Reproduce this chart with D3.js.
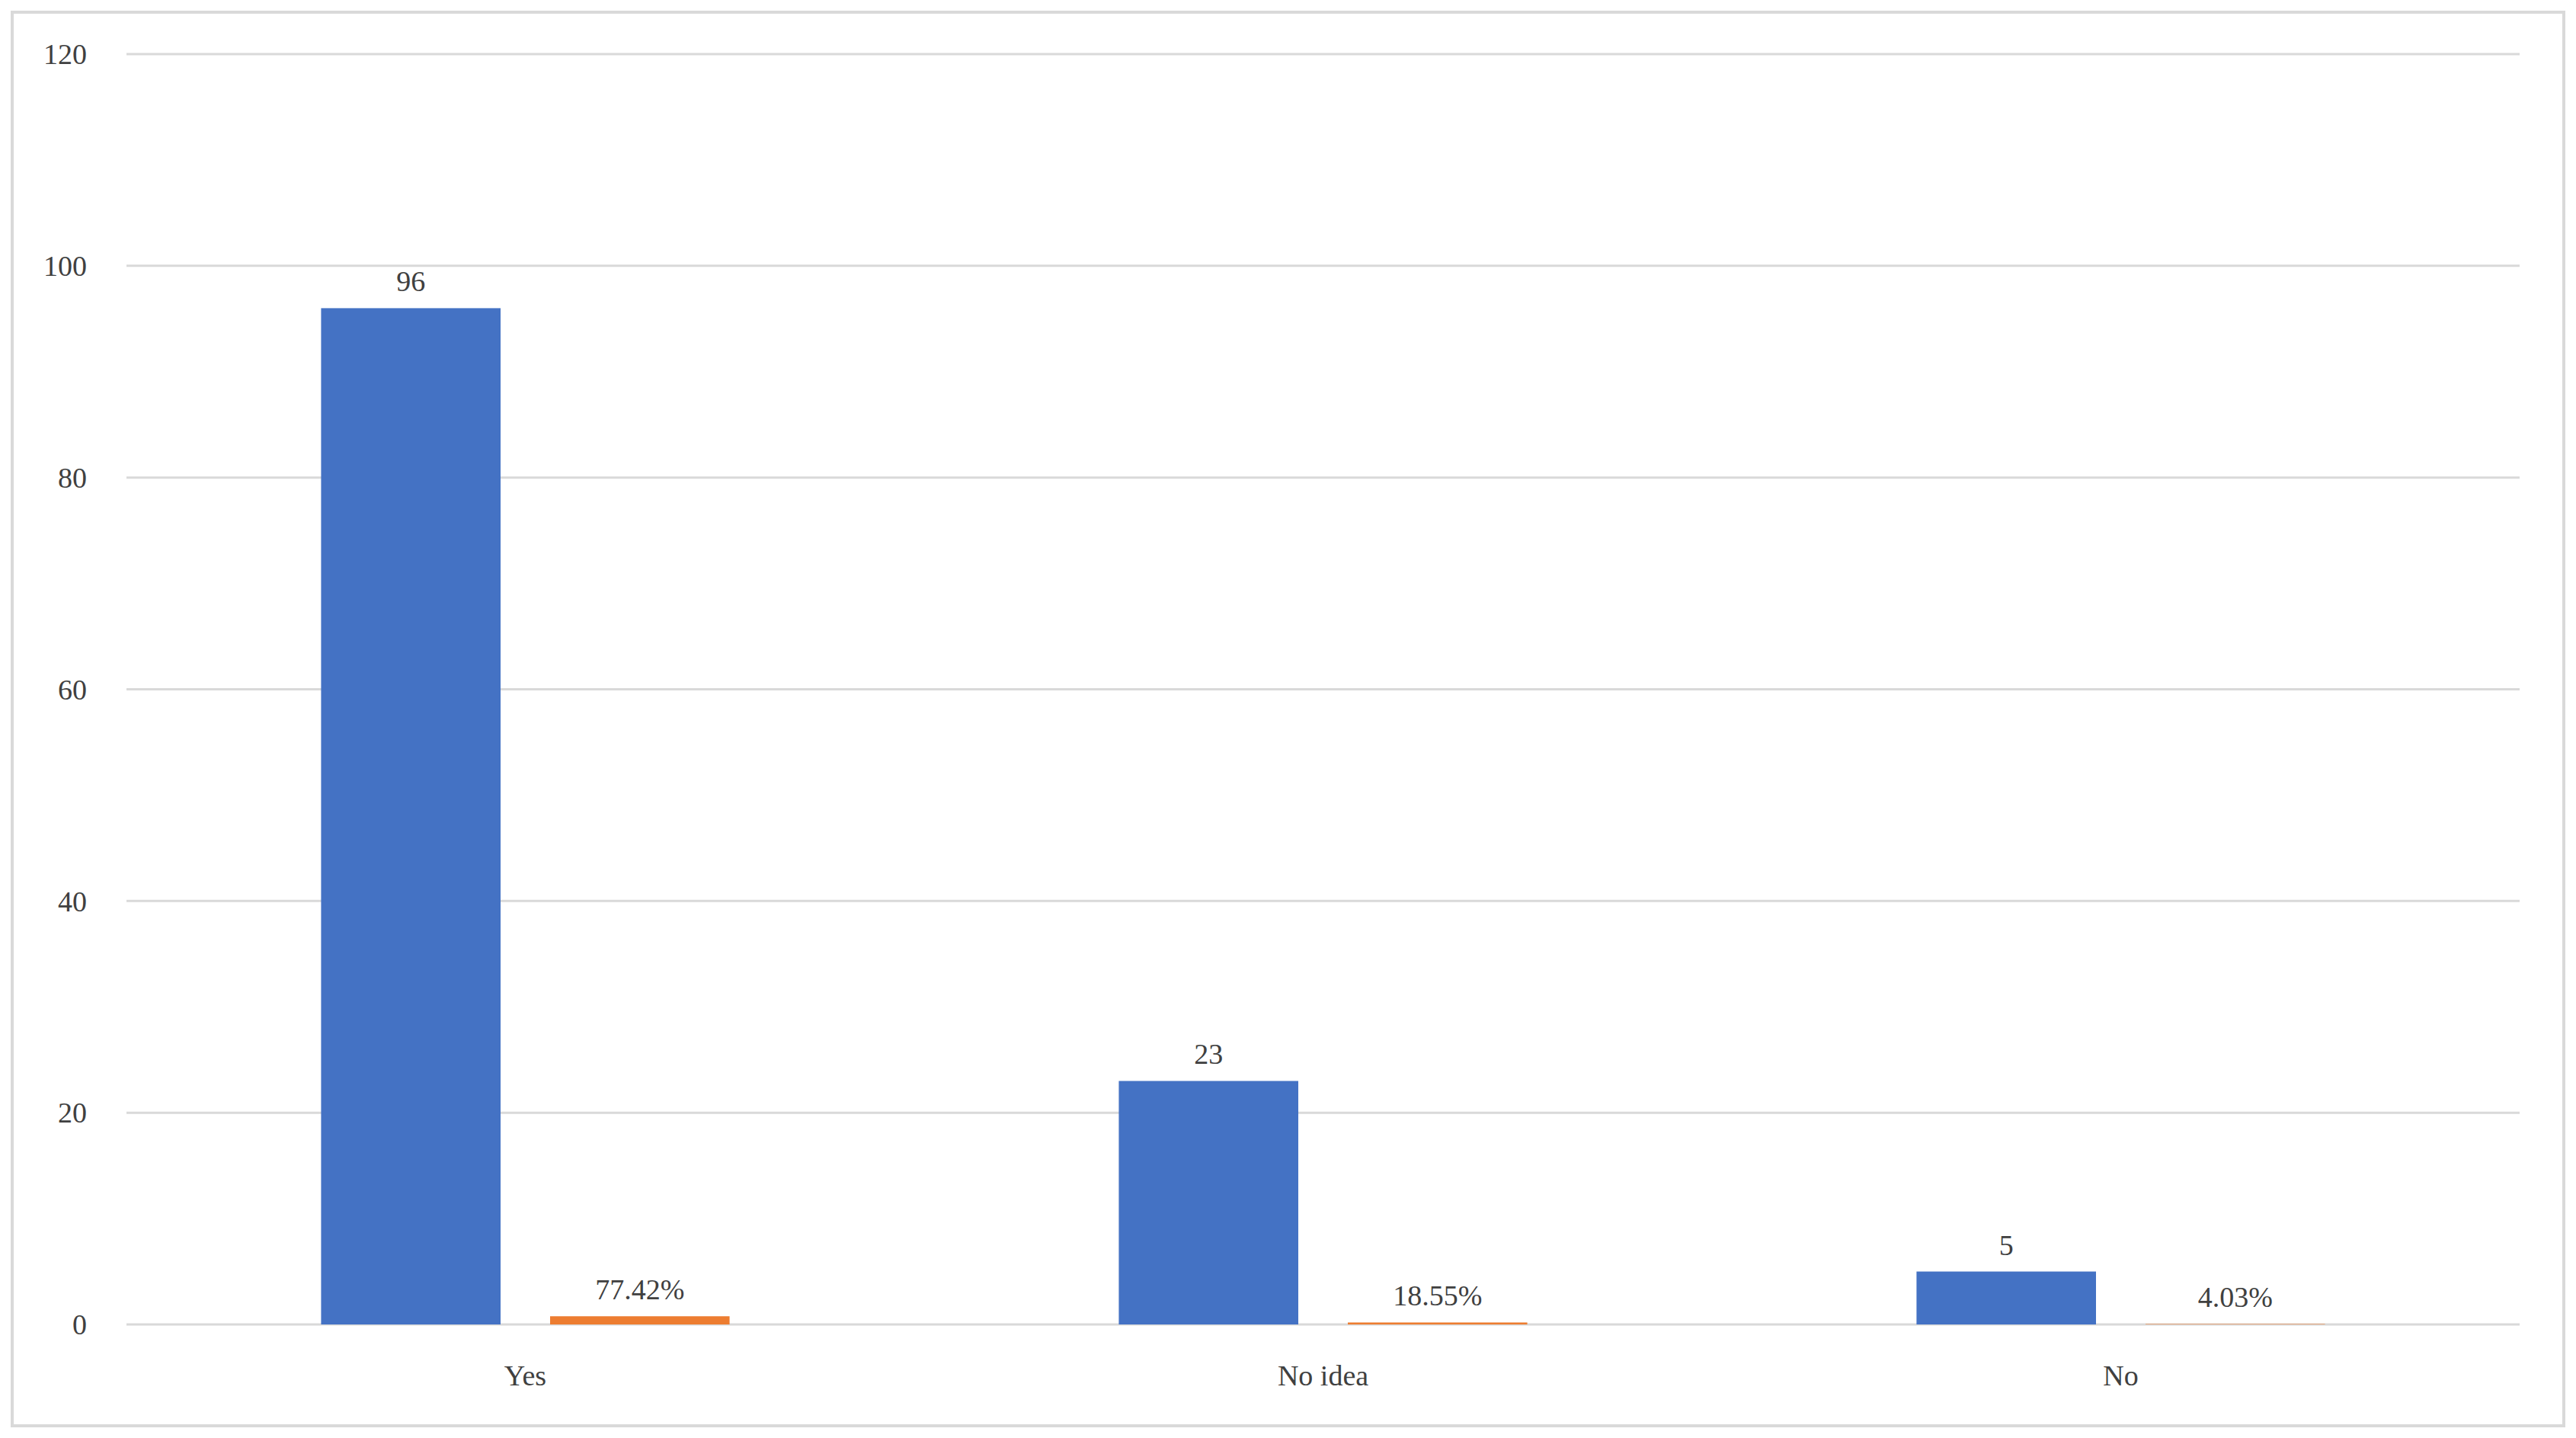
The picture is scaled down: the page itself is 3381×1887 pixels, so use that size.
<!DOCTYPE html>
<html>
<head>
<meta charset="utf-8">
<script src="https://cdn.jsdelivr.net/npm/d3@7"></script>
<style>
  body { margin: 0; background: #fff; }
  text { font-family: "Liberation Serif", "DejaVu Serif", serif; fill: #404040; }
</style>
</head>
<body>
<svg id="chart" width="3381" height="1887"></svg>
<script>
// chart data
var categories = ['Yes', 'No idea', 'No'];
var counts = [96, 23, 5];
var shares = [0.7742, 0.1855, 0.0403];
var yTicks = [0, 20, 40, 60, 80, 100, 120];

var svg = d3.select('#chart');
var W = 3381, H = 1887;
var margin = {left: 166, right: 3381 - 3307, top: 71, bottom: 1887 - 1738};

svg.append('rect')
	.attr('x', 16).attr('y', 16)
	.attr('width', W - 32).attr('height', H - 32)
	.attr('fill', '#fff').attr('stroke', '#d9d9d9').attr('stroke-width', 4);

var x = d3.scaleBand().domain(categories).range([margin.left, W - margin.right]);
var y = d3.scaleLinear().domain([0, 120]).range([H - margin.bottom, margin.top]);

// gridlines
svg.append('g').selectAll('line').data(yTicks).join('line')
	.attr('x1', margin.left).attr('x2', W - margin.right)
	.attr('y1', function(d) { return y(d); }).attr('y2', function(d) { return y(d); })
	.attr('stroke', '#d9d9d9').attr('stroke-width', 3);

// y tick labels
svg.append('g').selectAll('text').data(yTicks).join('text')
	.attr('x', 114).attr('y', function(d) { return y(d); })
	.attr('dy', '0.35em').attr('text-anchor', 'end')
	.attr('font-size', 38)
	.text(function(d) { return d; });

var bw = x.bandwidth() * 0.225;
var gap = 65;

// count bars
svg.append('g').selectAll('rect').data(counts).join('rect')
	.attr('x', function(d, i) { return x(categories[i]) + x.bandwidth() / 2 - gap / 2 - bw; })
	.attr('y', function(d) { return y(d); })
	.attr('width', bw)
	.attr('height', function(d) { return y(0) - y(d); })
	.attr('fill', '#4472c4');

svg.append('g').selectAll('text').data(counts).join('text')
	.attr('x', function(d, i) { return x(categories[i]) + x.bandwidth() / 2 - gap / 2 - bw / 2; })
	.attr('y', function(d) { return y(d) - 22; })
	.attr('text-anchor', 'middle').attr('font-size', 38)
	.text(function(d) { return d; });

// share bars (plotted on the same axis, so they are tiny)
svg.append('g').selectAll('rect').data(shares).join('rect')
	.attr('x', function(d, i) { return x(categories[i]) + x.bandwidth() / 2 + gap / 2; })
	.attr('y', function(d) { return y(d); })
	.attr('width', bw)
	.attr('height', function(d) { return y(0) - y(d); })
	.attr('fill', '#ed7d31');

svg.append('g').selectAll('text').data(shares).join('text')
	.attr('x', function(d, i) { return x(categories[i]) + x.bandwidth() / 2 + gap / 2 + bw / 2; })
	.attr('y', function(d) { return y(d) - 22; })
	.attr('text-anchor', 'middle').attr('font-size', 38)
	.text(function(d) { return (d * 100).toFixed(2) + '%'; });

// category labels
svg.append('g').selectAll('text').data(categories).join('text')
	.attr('x', function(d) { return x(d) + x.bandwidth() / 2; })
	.attr('y', y(0) + 80)
	.attr('text-anchor', 'middle').attr('font-size', 38)
	.text(function(d) { return d; });
</script>
</body>
</html>
